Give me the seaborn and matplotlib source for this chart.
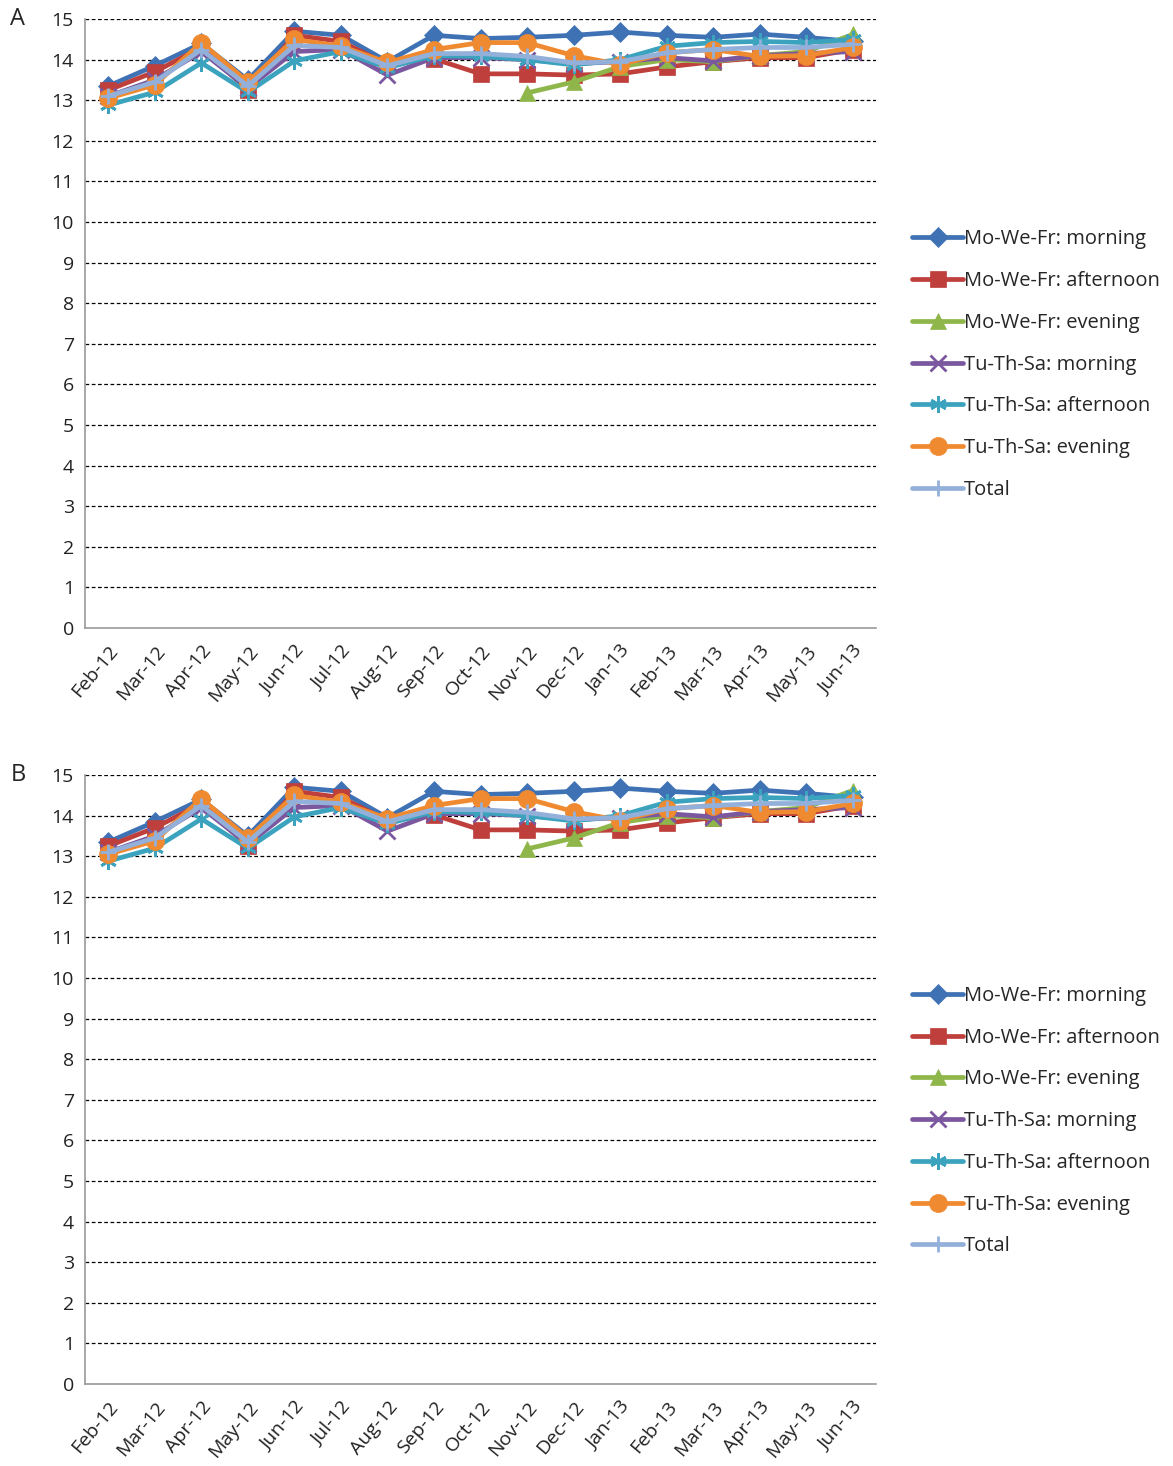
import numpy as np
import pandas as pd
import seaborn as sns
import matplotlib
matplotlib.use("Agg")
import matplotlib.pyplot as plt

# meses del eje x
months = ["Feb-12", "Mar-12", "Apr-12", "May-12", "Jun-12", "Jul-12", "Aug-12", "Sep-12",
          "Oct-12", "Nov-12", "Dec-12", "Jan-13", "Feb-13", "Mar-13", "Apr-13", "May-13", "Jun-13"]

mwf_morning = [13.35, 13.85, 14.4, 13.5, 14.7, 14.6, 13.95, 14.6, 14.52, 14.55, 14.6, 14.68,
               14.6, 14.55, 14.63, 14.55, 14.45]
mwf_afternoon = [13.25, 13.7, 14.3, 13.25, 14.6, 14.45, 13.88, 14.02, 13.65, 13.65, 13.62, 13.65,
                 13.82, 13.95, 14.05, 14.05, 14.25]
mwf_evening = [np.nan] * 9 + [13.18, 13.45, 13.83, 14.0, 13.95, 14.1, 14.2, 14.62]
tts_morning = [13.1, 13.5, 14.2, 13.3, 14.2, 14.25, 13.62, 14.05, 14.05, 14.0, 13.9, 13.95,
               14.05, 13.97, 14.1, 14.15, 14.2]
tts_afternoon = [12.88, 13.2, 13.92, 13.2, 13.97, 14.2, 13.8, 14.1, 14.08, 14.0, 13.87, 14.0,
                 14.33, 14.42, 14.45, 14.42, 14.5]
tts_evening = [13.05, 13.38, 14.42, 13.45, 14.5, 14.33, 13.93, 14.25, 14.42, 14.42, 14.1, 13.88,
               14.17, 14.25, 14.08, 14.1, 14.3]
total = [13.1, 13.45, 14.25, 13.35, 14.35, 14.3, 13.85, 14.15, 14.15, 14.08, 13.92, 13.95,
         14.17, 14.25, 14.3, 14.3, 14.38]

series_names = ["Mo-We-Fr: morning", "Mo-We-Fr: afternoon", "Mo-We-Fr: evening",
                "Tu-Th-Sa: morning", "Tu-Th-Sa: afternoon", "Tu-Th-Sa: evening", "Total"]
series_values = [mwf_morning, mwf_afternoon, mwf_evening, tts_morning, tts_afternoon, tts_evening, total]
colors = ["#3F72B5", "#BE3F3B", "#8FB64A", "#7A579E", "#3BA3BE", "#F08A30", "#93B0DA"]
markers = ["D", "s", "^", "x", (6, 2, 0), "o", "+"]
msizes = [10, 12, 11, 11, 12, 13, 12]

sns.set_style("white")
plt.rcParams["font.family"] = ["Open Sans", "DejaVu Sans"]

fig = plt.figure(figsize=(11.73, 14.66), dpi=100)
ax_a = fig.add_axes([0.0725, 0.5716, 0.6743, 0.4154])
ax_b = fig.add_axes([0.0725, 0.0559, 0.6743, 0.4154])

x = np.arange(len(months))

for ax, letter, leg_top in [(ax_a, "A", 0.849), (ax_b, "B", 0.333)]:
    for name, vals, c, m, ms in zip(series_names, series_values, colors, markers, msizes):
        df = pd.DataFrame({"x": x, "y": vals}).dropna()
        sns.lineplot(data=df, x="x", y="y", ax=ax, color=c, marker=m, markersize=ms,
                     linewidth=3.4, markeredgewidth=2 if m in ["x", "+", (6, 2, 0)] else 0.5,
                     markeredgecolor=c, label=name, sort=False)
    ax.set_xlim(-0.5, len(months) - 0.5)
    ax.set_ylim(0, 15)
    ax.set_yticks(range(0, 16))
    for yv in range(1, 16):
        ax.axhline(yv, color="black", linestyle=(0, (3, 2)), linewidth=0.9, zorder=0)
    ax.set_xticks(x)
    ax.set_xticklabels(months, rotation=50, ha="right", rotation_mode="anchor", fontsize=14, color="#222222")
    ax.set_xticks(np.arange(-0.5, len(months)), minor=True)
    ax.tick_params(axis="x", which="major", length=0, pad=10)
    ax.tick_params(axis="x", which="minor", length=6, color="#999999", width=1)
    ax.tick_params(axis="y", length=0, labelsize=14, labelcolor="#222222", pad=8)
    ax.set_xlabel("")
    ax.set_ylabel("")
    for s in ["top", "right"]:
        ax.spines[s].set_visible(False)
    ax.spines["left"].set_color("#999999")
    ax.spines["bottom"].set_color("#999999")
    ax.spines["left"].set_linewidth(1.2)
    ax.spines["bottom"].set_linewidth(1.2)
    ax.legend(loc="upper left", bbox_to_anchor=(0.771, leg_top), bbox_transform=fig.transFigure,
              frameon=False, fontsize=14.5, handlelength=2.5, handletextpad=0.05,
              labelspacing=1.08, borderaxespad=0)
    fig.text(0.0153, ax.get_position().y1, letter, fontsize=17, va="center", ha="center")

fig.savefig("out.png", dpi=100)
